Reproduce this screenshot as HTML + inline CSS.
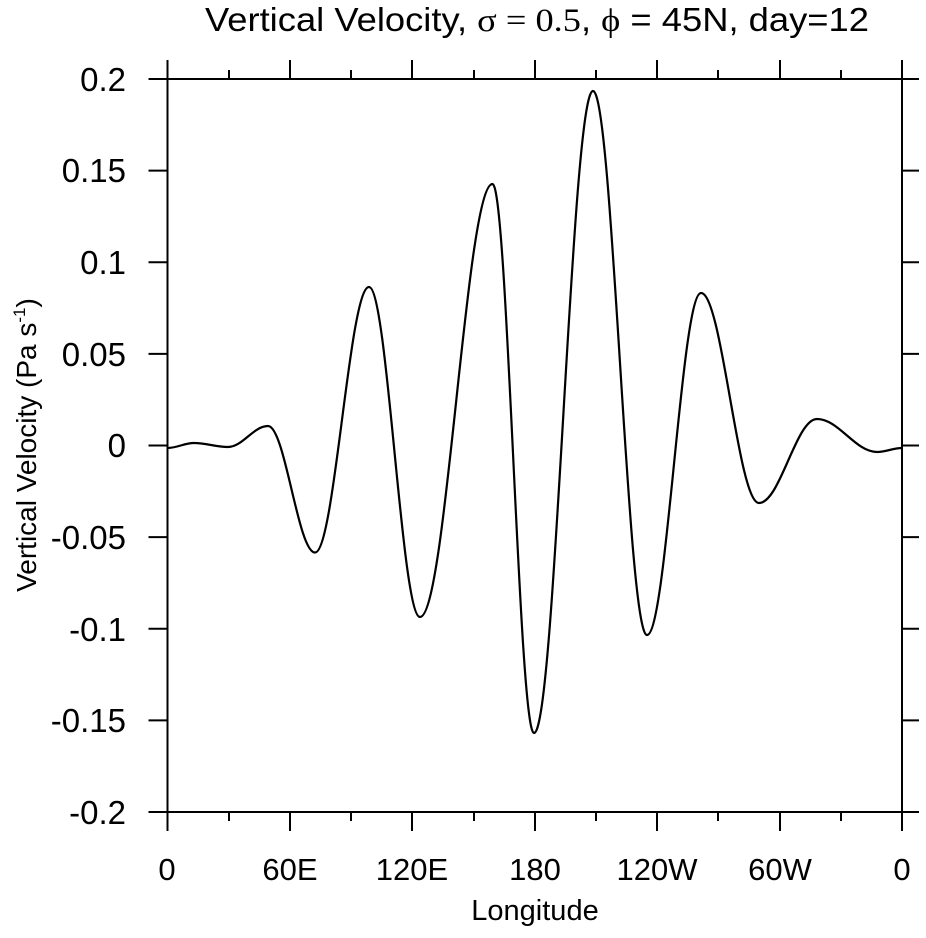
<!DOCTYPE html>
<html><head><style>body{margin:0;background:#fff}</style></head><body>
<svg width="926" height="933" xmlns="http://www.w3.org/2000/svg" font-family="Liberation Sans, sans-serif">
<rect width="926" height="933" fill="#fff"/>
<text x="537" y="31" font-size="33" text-anchor="middle" textLength="664" lengthAdjust="spacingAndGlyphs">Vertical Velocity, <tspan font-family="Liberation Serif, serif">σ = 0.5</tspan>, <tspan font-family="Liberation Serif, serif">ϕ</tspan> = 45N, day=12</text>
<rect x="167.5" y="79" width="734.5" height="733" fill="none" stroke="#000" stroke-width="2"/>
<g stroke="#000" stroke-width="2">
<path d="M167.5 79h-19M167.5 170.6h-19M167.5 262.3h-19M167.5 353.9h-19M167.5 445.5h-19M167.5 537.1h-19M167.5 628.8h-19M167.5 720.4h-19M167.5 812h-19"/>
<path d="M902 79h17M902 170.6h17M902 262.3h17M902 353.9h17M902 445.5h17M902 537.1h17M902 628.8h17M902 720.4h17M902 812h17"/>
<path d="M167.5 79v-19M290 79v-19M412 79v-19M535 79v-19M657 79v-19M780 79v-19M902 79v-19M229 79v-9M351 79v-9M474 79v-9M596 79v-9M718 79v-9M841 79v-9"/>
<path d="M167.5 812v19M290 812v19M412 812v19M535 812v19M657 812v19M780 812v19M902 812v19M229 812v9M351 812v9M474 812v9M596 812v9M718 812v9M841 812v9"/>
</g>
<g font-size="33" text-anchor="end">
<text x="126" y="91">0.2</text><text x="126" y="182">0.15</text><text x="126" y="274">0.1</text><text x="126" y="366">0.05</text><text x="126" y="457">0</text><text x="126" y="549">-0.05</text><text x="126" y="641">-0.1</text><text x="126" y="732">-0.15</text><text x="126" y="824">-0.2</text>
</g>
<g font-size="31" text-anchor="middle">
<text x="167" y="880">0</text><text x="290" y="880">60E</text><text x="412" y="880">120E</text><text x="535" y="880">180</text><text x="657" y="880">120W</text><text x="780" y="880">60W</text><text x="902" y="880">0</text>
</g>
<text x="535" y="920" font-size="29" text-anchor="middle">Longitude</text>
<text transform="translate(36,445) rotate(-90)" font-size="28" text-anchor="middle">Vertical Velocity (Pa s<tspan font-size="17" dy="-11">-1</tspan><tspan dy="11">)</tspan></text>
<path fill="none" stroke="#000" stroke-width="2.2" d="M167.5 448 C177.15 448 184.35 443 194 443 C206.38 443 215.62 447 228 447 C242.56 447 253.44 426 268 426 C285.11 426 297.89 552.5 315 552.5 C334.66 552.5 349.34 287 369 287 C387.56 287 401.44 617 420 617 C446.39 617 466.11 184 492.5 184 C507.61 184 518.89 733 534 733 C555.48 733 571.52 91 593 91 C612.66 91 627.34 635 647 635 C666.66 635 681.34 293 701 293 C722.11 293 737.89 503 759 503 C780.11 503 795.89 419 817 419 C838.84 419 855.16 452 877 452 C886.1 452 892.9 448 902 448"/>
</svg>
</body></html>
